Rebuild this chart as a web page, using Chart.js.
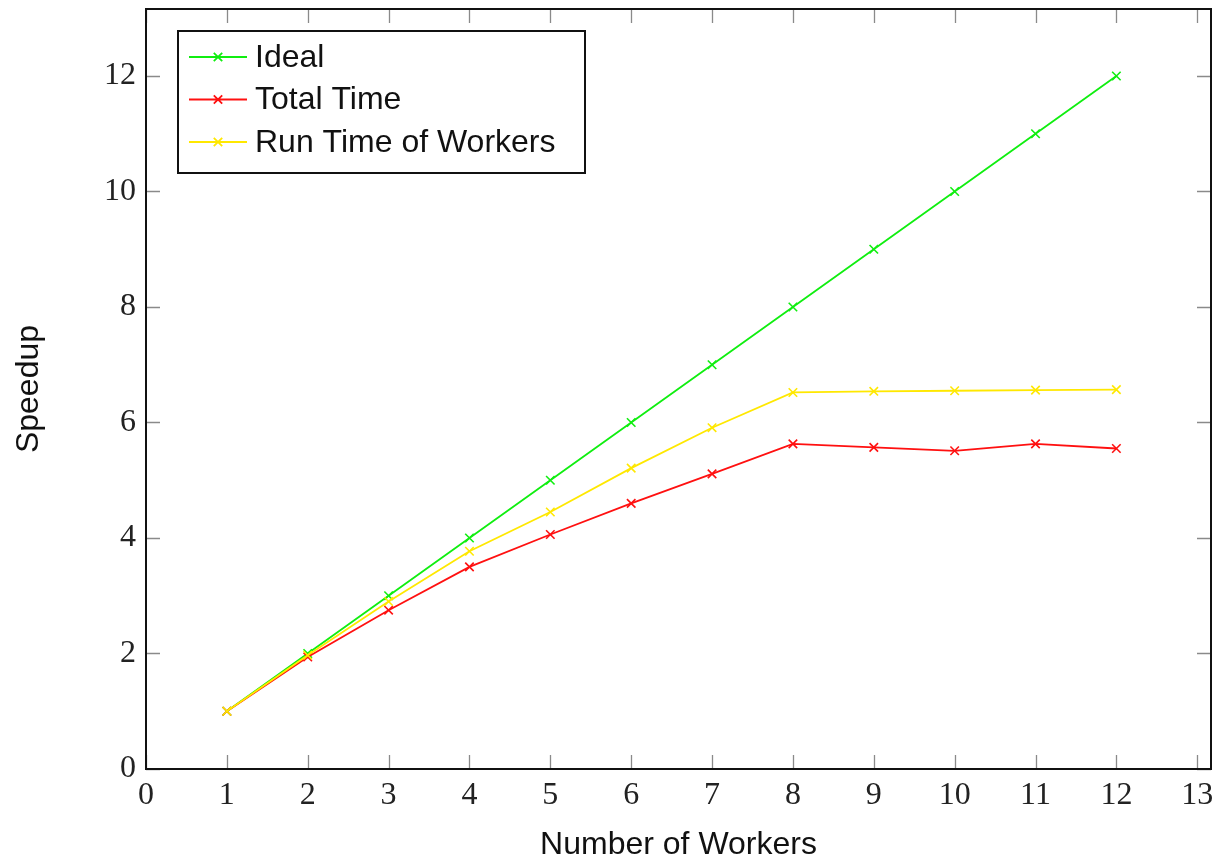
<!DOCTYPE html>
<html><head><meta charset="utf-8">
<script src="https://cdn.jsdelivr.net/npm/chart.js@4.4.1/dist/chart.umd.min.js"></script>
<style>html,body{margin:0;padding:0;background:#fff;} #wrap{width:1215px;height:861px;}</style>
</head><body><div id="wrap"><canvas id="c" width="1215" height="861"></canvas></div>
<script>
const workers = [1,2,3,4,5,6,7,8,9,10,11,12];
const idealSpeedup = [1,2,3,4,5,6,7,8,9,10,11,12];
const totalTimeSpeedup = [1,1.94,2.75,3.5,4.06,4.6,5.11,5.63,5.57,5.51,5.63,5.55];
const runTimeSpeedup = [1,1.97,2.9,3.77,4.45,5.21,5.91,6.52,6.54,6.55,6.56,6.57];
const seriesNames = ['Ideal','Total Time','Run Time of Workers'];
const seriesColors = ['#10ee10','#ff1010','#ffe800'];
const xTickValues = [0,1,2,3,4,5,6,7,8,9,10,11,12,13];
const yTickValues = [0,2,4,6,8,10,12];
const xTitle = 'Number of Workers';
const yTitle = 'Speedup';

function toPoints(ys){ return workers.map((x,i)=>({x:x,y:ys[i]})); }
const seriesValues = [idealSpeedup,totalTimeSpeedup,runTimeSpeedup];
const drawOrder = [2,1,0];

const datasets = seriesNames.map((name,i)=>({
  label:name,
  data:toPoints(seriesValues[i]),
  borderColor:seriesColors[i],
  backgroundColor:seriesColors[i],
  borderWidth:1.8,
  pointStyle:'crossRot',
  pointRadius:6,
  pointBorderWidth:1.6,
  pointHoverRadius:6,
  tension:0,
  order:drawOrder[i]
}));

const tickFont = {family:'"Liberation Serif", "DejaVu Serif", serif', size:32};
const titleFont = {family:'"Liberation Sans", Arial, sans-serif', size:32};

function zeroPad(s){ s.paddingTop = 0; s.paddingBottom = 0; s.paddingLeft = 0; s.paddingRight = 0; }

const framePlugin = {
  id:'frameTicks',
  afterDraw(chart){
    const ctx = chart.ctx, ca = chart.chartArea;
    const xs = chart.scales.x, ys = chart.scales.y;
    const L = 14;
    ctx.save();
    ctx.strokeStyle = '#8a8a8a';
    ctx.lineWidth = 1.3;
    ctx.beginPath();
    xTickValues.forEach(v=>{
      const px = Math.round(xs.getPixelForValue(v))+0.5;
      ctx.moveTo(px, ca.bottom); ctx.lineTo(px, ca.bottom-L);
      ctx.moveTo(px, ca.top); ctx.lineTo(px, ca.top+L);
    });
    yTickValues.forEach(v=>{
      const py = Math.round(ys.getPixelForValue(v))+0.5;
      ctx.moveTo(ca.left, py); ctx.lineTo(ca.left+L, py);
      ctx.moveTo(ca.right, py); ctx.lineTo(ca.right-L, py);
    });
    ctx.stroke();
    ctx.strokeStyle = '#111';
    ctx.lineWidth = 2;
    ctx.strokeRect(ca.left, ca.top, ca.right-ca.left, ca.bottom-ca.top);

    // legend inside plot
    const bx = ca.left+32, by = ca.top+22, bw = 407, bh = 142;
    ctx.fillStyle = '#fff';
    ctx.fillRect(bx,by,bw,bh);
    ctx.strokeStyle = '#111';
    ctx.lineWidth = 2;
    ctx.strokeRect(bx,by,bw,bh);
    ctx.font = '32px "Liberation Sans", Arial, sans-serif';
    ctx.textBaseline = 'middle';
    ctx.textAlign = 'left';
    chart.data.datasets.forEach((ds,i)=>{
      const y = by + 26 + i*42.5;
      ctx.strokeStyle = ds.borderColor;
      ctx.lineWidth = 1.8;
      ctx.beginPath();
      ctx.moveTo(bx+11,y); ctx.lineTo(bx+69,y);
      const cx = bx+40, r = 4.2;
      ctx.moveTo(cx-r,y-r); ctx.lineTo(cx+r,y+r);
      ctx.moveTo(cx-r,y+r); ctx.lineTo(cx+r,y-r);
      ctx.stroke();
      ctx.fillStyle = '#111';
      ctx.fillText(ds.label, bx+77, y+1);
    });
    ctx.restore();
  }
};

new Chart(document.getElementById('c'), {
  type:'line',
  data:{datasets:datasets},
  plugins:[framePlugin],
  options:{
    responsive:false,
    animation:false,
    devicePixelRatio:1,
    layout:{autoPadding:false, padding:{top:9,right:4,left:0,bottom:0}},
    plugins:{legend:{display:false},tooltip:{enabled:false}},
    scales:{
      x:{
        type:'linear', min:0, max:13.17,
        afterBuildTicks:s=>{ s.ticks = xTickValues.map(v=>({value:v})); },
        afterFit:s=>{ s.height = 92; zeroPad(s); },
        grid:{display:false}, border:{display:false},
        ticks:{font:tickFont, color:'#222', padding:-1, maxRotation:0, autoSkip:false},
        title:{display:true, text:xTitle, font:titleFont, color:'#111', padding:{top:0,bottom:-3}}
      },
      y:{
        type:'linear', min:0, max:13.16,
        afterBuildTicks:s=>{ s.ticks = yTickValues.map(v=>({value:v})); },
        afterFit:s=>{ s.width = 146; zeroPad(s); },
        grid:{display:false}, border:{display:false},
        ticks:{font:tickFont, color:'#222', padding:2, autoSkip:false},
        title:{display:true, text:yTitle, font:titleFont, color:'#111', padding:{top:10,bottom:0}}
      }
    }
  }
});
</script>
</body></html>
